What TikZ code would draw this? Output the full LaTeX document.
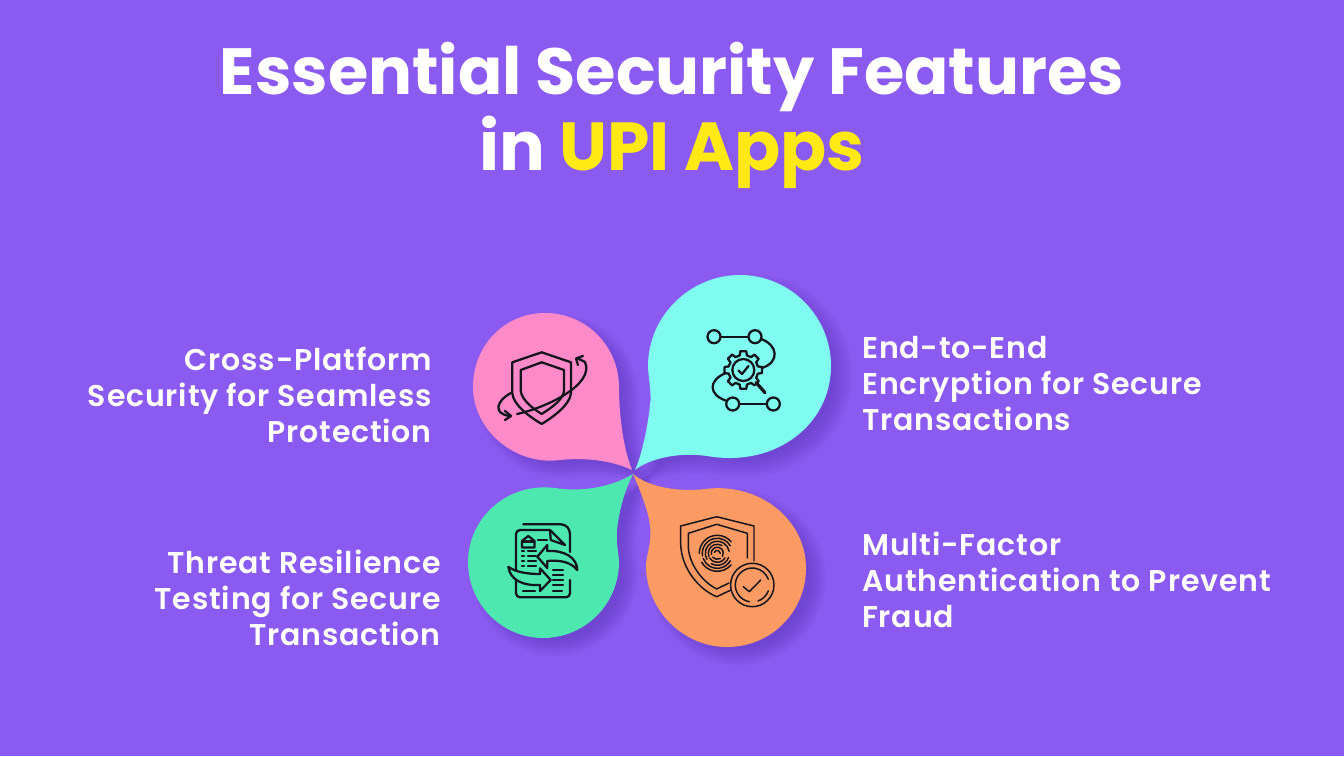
\documentclass[tikz,border=0pt]{standalone}
\usepackage{fontspec}
\setmainfont{Poppins}
\newfontfamily\labelfont{Poppins SemiBold}[LetterSpace=2.75]
\usetikzlibrary{calc}
\definecolor{bgviolet}{HTML}{8B5AF0}
\definecolor{shadeviolet}{HTML}{4A2AA8}
\definecolor{blobpink}{HTML}{FF8AC9}
\definecolor{blobcyan}{HTML}{80FBF0}
\definecolor{blobgreen}{HTML}{4DE8B0}
\definecolor{bloborange}{HTML}{FB9A63}
\definecolor{titleyellow}{HTML}{FFE914}
\definecolor{iconink}{HTML}{14141C}
\tikzset{
	titletext/.style={anchor=base, text=white, font=\fontsize{49}{60}\selectfont\bfseries},
	labeltext/.style={text=white, font=\fontsize{22.5}{27}\selectfont\labelfont, inner sep=0pt},
	iconline/.style={draw=iconink, line width=1.7pt, line cap=round, line join=round},
	iconthin/.style={draw=iconink, line width=1.1pt, line cap=round, line join=round},
}
\def\softshadow(#1,#2)#3{\foreach \s in {0.90,0.93,...,1.13} {\fill[shadeviolet, opacity=0.06, shift={(#1+11,#2+9)}, scale=\s, shift={(-#1,-#2)}] #3;}}
\def\arcat[#1](#2)(#3:#4:#5){\draw[#1] ([shift={(#3:#5)}]#2) arc (#3:#4:#5);}
\def\pinkblob{(632,470) .. controls (615,462) and (590,457) .. (560,460) .. controls (515,466) and (473,430) .. (473,387) .. controls (473,345) and (505,313) .. (545,313) .. controls (587,313) and (619,347) .. (619,387) .. controls (619,410) and (622,445) .. (632,470) -- cycle}
\def\cyanblob{(635,470) .. controls (650,458) and (680,452) .. (707,456) .. controls (775,468) and (831,425) .. (831,366) .. controls (831,316) and (790,275) .. (740,275) .. controls (690,275) and (648,316) .. (648,366) .. controls (648,375) and (652,395) .. (650,405) .. controls (648,425) and (642,455) .. (635,470) -- cycle}
\def\greenblob{(633,474) .. controls (610,488) and (580,492) .. (555,488) .. controls (505,482) and (468,520) .. (468,562) .. controls (468,604) and (502,638) .. (543,638) .. controls (585,638) and (619,604) .. (619,562) .. controls (619,555) and (616,545) .. (617,530) .. controls (619,510) and (625,490) .. (633,474) -- cycle}
\def\orangeblob{(633,474) .. controls (650,488) and (680,492) .. (705,489) .. controls (760,482) and (806,520) .. (806,568) .. controls (806,612) and (771,647) .. (727,647) .. controls (683,647) and (646,610) .. (646,566) .. controls (646,555) and (652,545) .. (650,525) .. controls (648,510) and (640,490) .. (633,474) -- cycle}

\begin{document}
\begin{tikzpicture}[x=0.75pt, y=-0.75pt]
	%%%%% BACKGROUND %%%%%
	\fill[bgviolet] (0, 0) rectangle (1344, 756);
	\useasboundingbox (0, 0) rectangle (1344, 756);

	\node[titletext] (titletop) at (672, 95) {Essential Security Features};
	\node[titletext, font=\fontsize{51}{60}\selectfont\bfseries] (titlebottom) at (672, 171) {in \textcolor{titleyellow}{UPI Apps}};

	%%%%% BLOBS %%%%%
	\softshadow(545,387){\pinkblob}
	\softshadow(740,366){\cyanblob}
	\softshadow(543,562){\greenblob}
	\softshadow(727,567){\orangeblob}
	\fill[blobpink] \pinkblob;
	\fill[blobcyan] \cyanblob;
	\fill[blobgreen] \greenblob;
	\fill[bloborange] \orangeblob;

	%%%%% LABELS %%%%%
	\node[labeltext, align=right, anchor=east] (crosslabel) at (432, 395) {Cross-Platform\\Security for Seamless\\Protection};
	\node[labeltext, align=left, anchor=west] (endlabel) at (862, 384) {End-to-End\\Encryption for Secure\\Transactions};
	\node[labeltext, align=right, anchor=east] (threatlabel) at (441, 598) {Threat Resilience\\Testing for Secure\\Transaction};
	\node[labeltext, align=left, anchor=west] (factorlabel) at (862, 580) {Multi-Factor\\Authentication to Prevent\\Fraud};

	%%%%% PINK ICON %%%%%
	\draw[iconline] (541.7, 352.3) -- (512.3, 362.3) -- (512.3, 393) .. controls (513, 405) and (530, 417) .. (541.7, 424) .. controls (553, 417) and (570, 405) .. (571, 393) -- (571, 362.3) -- cycle;
	\draw[iconline] (541.7, 362.3) -- (520.7, 370) -- (520.7, 391) .. controls (522, 400) and (532, 408) .. (541.7, 414) .. controls (551, 408) and (563, 400) .. (564, 391) -- (564, 370) -- cycle;
	\draw[iconline] (517, 414) .. controls (545, 408) and (595, 385) .. (585, 362) -- (577, 358);
	\draw[iconline] (583, 356) -- (576, 358.5) -- (578, 365);
	\draw[iconline] (511, 393) .. controls (497, 400) and (492, 414) .. (510, 416);
	\draw[iconline] (505, 411) -- (511, 416) -- (505, 420);

	%%%%% CYAN ICON %%%%%
	\draw[iconline] (714, 336.7) circle (6.5);
	\draw[iconline] (755, 336.7) circle (6.5);
	\draw[iconline] (732.7, 404) circle (6.5);
	\draw[iconline] (773.3, 404) circle (6.5);
	\draw[iconline] (720.5, 336.7) -- (748.5, 336.7);
	\draw[iconline] (739.2, 404) -- (766.8, 404);
	\draw[iconline] (761, 339) .. controls (778, 345) and (780, 362) .. (762, 368);
	\draw[iconline] (726, 373) .. controls (708, 380) and (708, 395) .. (727, 401);
	\foreach \a in {0, 45, ..., 315} {
		\draw[iconline] ($(743.3, 370)+(\a-9:19)$) -- ($(743.3, 370)+(\a+9:19)$) -- ($(743.3, 370)+(\a+14:15)$);
		\draw[iconline] ($(743.3, 370)+(\a-9:19)$) -- ($(743.3, 370)+(\a-14:15)$);
		\arcat[iconline](743.3, 370)(\a+14:\a+31:15)
	}
	\draw[iconline] (743.3, 370) circle (11);
	\draw[iconline] (738.5, 370.5) -- (742, 374) -- (748.5, 366);
	\draw[iconline, line width=2.4pt] (756, 382.5) -- (765, 392.7);

	%%%%% GREEN ICON %%%%%
	\draw[iconline, rounded corners=3pt] (550, 530) -- (516, 530) -- (516, 597.3) -- (570, 597.3) -- (570, 580);
	\draw[iconline, rounded corners=3pt] (523.3, 524.3) -- (565, 524.3) -- (570, 530) -- (570, 552);
	\draw[iconline] (550, 530) -- (550.7, 540) -- (565, 545);
	\draw[iconline] (550, 530) -- (565, 545);
	\draw[iconline, fill=blobgreen] (537.3, 556.7) -- (547.3, 545) -- (547.3, 551) .. controls (565, 550) and (577, 558) .. (577.3, 570) .. controls (570, 561) and (558, 560) .. (547.3, 561) -- (547.3, 568) -- cycle;
	\draw[iconline, fill=blobgreen] (550.7, 580) -- (540, 568.3) -- (540, 574) .. controls (527, 574) and (515, 572) .. (508.3, 566.7) .. controls (510, 580) and (523, 586) .. (540, 585) -- (540, 591) -- cycle;
	\draw[iconline] (522, 541) -- (528.3, 536) -- (534.5, 541) -- (534.5, 547.5) -- (522, 547.5) -- cycle;
	\draw[iconline] (522, 541.5) -- (534.5, 541.5);
	\foreach \y in {551, 556, 561, 566} {
		\draw[iconline] (522, \y) -- (524, \y);
		\draw[iconline] (528, \y) -- (536, \y);
	}
	\foreach \y in {570, 575, 580, 585} {
		\draw[iconline] (553, \y) -- (563, \y);
	}
	\draw[iconline] (538, 540) -- (547, 540);
	\draw[iconline] (523, 591) -- (535, 591);
	\draw[iconline] (553, 591) -- (562, 591);

	%%%%% ORANGE ICON %%%%%
	\draw[iconthin] (754, 561) -- (754, 526) -- (716.7, 516.7) -- (680.7, 526) -- (680.7, 545) .. controls (682, 570) and (700, 590) .. (716.7, 596.7) -- (731, 590);
	\draw[iconthin] (747.3, 558) -- (747.3, 533.3) -- (716.7, 524.3) -- (688.3, 533.3) -- (688.3, 548) .. controls (690, 566) and (703, 582) .. (716.7, 589) -- (729, 583);
	\foreach \r/\a/\b in {3/200/360, 6/170/390, 9/160/300, 12/150/350, 15/170/330, 18/180/320} {
		\arcat[iconthin](717.3, 553.3)(\a:\b:\r)
	}
	\foreach \r/\a/\b in {6/60/140, 9/30/150, 12/20/120, 15/30/160, 18/40/150} {
		\arcat[iconthin](717.3, 553.3)(\a:\b:\r)
	}
	\draw[iconthin] (752.3, 585) circle (21.7);
	\arcat[iconthin](752.3, 585)(100:340:17)
	\arcat[iconthin](752.3, 585)(20:70:17)
	\draw[iconthin] (743.3, 586.7) -- (749.3, 591.7) -- (760.7, 580);
\end{tikzpicture}
\end{document}
